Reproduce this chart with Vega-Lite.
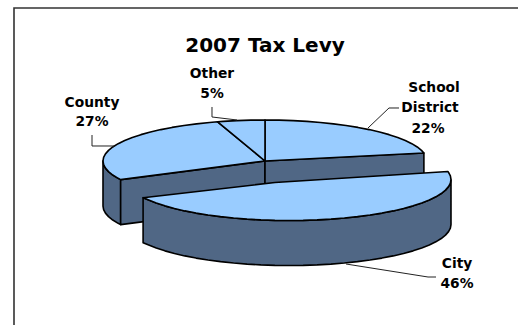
{
  "$schema": "https://vega.github.io/schema/vega-lite/v6.json",
  "width": 518,
  "height": 325,
  "padding": 0,
  "autosize": "none",
  "background": "white",
  "view": {"stroke": null},
  "config": {"text": {"font": "DejaVu Sans"}},
  "datasets": {
    "frame": [
      {"i": 0, "x": -1.5494, "y": -4},
      {"i": 1, "x": -1.5494, "y": 3.7317},
      {"i": 2, "x": 1.5617, "y": 3.7317}
    ],
    "pie": [
      {"layer": "backWall", "shape": "countyRim", "i": 0, "x": -0.891, "y": -0.454},
      {"layer": "backWall", "shape": "countyRim", "i": 1, "x": -0.9063, "y": -0.4226},
      {"layer": "backWall", "shape": "countyRim", "i": 2, "x": -0.9397, "y": -0.342},
      {"layer": "backWall", "shape": "countyRim", "i": 3, "x": -0.9659, "y": -0.2588},
      {"layer": "backWall", "shape": "countyRim", "i": 4, "x": -0.9848, "y": -0.1736},
      {"layer": "backWall", "shape": "countyRim", "i": 5, "x": -0.9962, "y": -0.0872},
      {"layer": "backWall", "shape": "countyRim", "i": 6, "x": -1, "y": 0},
      {"layer": "backWall", "shape": "countyRim", "i": 7, "x": -1, "y": -1.0976},
      {"layer": "backWall", "shape": "countyRim", "i": 8, "x": -0.9962, "y": -1.1848},
      {"layer": "backWall", "shape": "countyRim", "i": 9, "x": -0.9848, "y": -1.2712},
      {"layer": "backWall", "shape": "countyRim", "i": 10, "x": -0.9659, "y": -1.3564},
      {"layer": "backWall", "shape": "countyRim", "i": 11, "x": -0.9397, "y": -1.4396},
      {"layer": "backWall", "shape": "countyRim", "i": 12, "x": -0.9063, "y": -1.5202},
      {"layer": "backWall", "shape": "countyRim", "i": 13, "x": -0.891, "y": -1.5516},
      {"layer": "backWall", "shape": "countyRim", "i": 14, "x": -0.891, "y": -0.454},
      {"layer": "backWall", "shape": "countyCut", "i": 0, "x": 0, "y": 0},
      {"layer": "backWall", "shape": "countyCut", "i": 1, "x": -0.891, "y": -0.454},
      {"layer": "backWall", "shape": "countyCut", "i": 2, "x": -0.891, "y": -1.5516},
      {"layer": "backWall", "shape": "countyCut", "i": 3, "x": 0, "y": -1.0976},
      {"layer": "backWall", "shape": "countyCut", "i": 4, "x": 0, "y": 0},
      {"layer": "backWall", "shape": "schoolCut", "i": 0, "x": 0, "y": 0},
      {"layer": "backWall", "shape": "schoolCut", "i": 1, "x": 0.9808, "y": 0.1951},
      {"layer": "backWall", "shape": "schoolCut", "i": 2, "x": 0.9808, "y": -0.9025},
      {"layer": "backWall", "shape": "schoolCut", "i": 3, "x": 0, "y": -1.0976},
      {"layer": "backWall", "shape": "schoolCut", "i": 4, "x": 0, "y": 0},

      {"layer": "backTop", "shape": "school", "i": 0, "x": 0, "y": 0},
      {"layer": "backTop", "shape": "school", "i": 1, "x": 0, "y": 1},
      {"layer": "backTop", "shape": "school", "i": 2, "x": 0.0872, "y": 0.9962},
      {"layer": "backTop", "shape": "school", "i": 3, "x": 0.1736, "y": 0.9848},
      {"layer": "backTop", "shape": "school", "i": 4, "x": 0.2588, "y": 0.9659},
      {"layer": "backTop", "shape": "school", "i": 5, "x": 0.342, "y": 0.9397},
      {"layer": "backTop", "shape": "school", "i": 6, "x": 0.4226, "y": 0.9063},
      {"layer": "backTop", "shape": "school", "i": 7, "x": 0.5, "y": 0.866},
      {"layer": "backTop", "shape": "school", "i": 8, "x": 0.5736, "y": 0.8192},
      {"layer": "backTop", "shape": "school", "i": 9, "x": 0.6428, "y": 0.766},
      {"layer": "backTop", "shape": "school", "i": 10, "x": 0.7071, "y": 0.7071},
      {"layer": "backTop", "shape": "school", "i": 11, "x": 0.766, "y": 0.6428},
      {"layer": "backTop", "shape": "school", "i": 12, "x": 0.8192, "y": 0.5736},
      {"layer": "backTop", "shape": "school", "i": 13, "x": 0.866, "y": 0.5},
      {"layer": "backTop", "shape": "school", "i": 14, "x": 0.9063, "y": 0.4226},
      {"layer": "backTop", "shape": "school", "i": 15, "x": 0.9397, "y": 0.342},
      {"layer": "backTop", "shape": "school", "i": 16, "x": 0.9659, "y": 0.2588},
      {"layer": "backTop", "shape": "school", "i": 17, "x": 0.9808, "y": 0.1951},
      {"layer": "backTop", "shape": "school", "i": 18, "x": 0, "y": 0},

      {"layer": "backTop", "shape": "county", "i": 0, "x": 0, "y": 0},
      {"layer": "backTop", "shape": "county", "i": 1, "x": -0.891, "y": -0.454},
      {"layer": "backTop", "shape": "county", "i": 2, "x": -0.9063, "y": -0.4226},
      {"layer": "backTop", "shape": "county", "i": 3, "x": -0.9397, "y": -0.342},
      {"layer": "backTop", "shape": "county", "i": 4, "x": -0.9659, "y": -0.2588},
      {"layer": "backTop", "shape": "county", "i": 5, "x": -0.9848, "y": -0.1736},
      {"layer": "backTop", "shape": "county", "i": 6, "x": -0.9962, "y": -0.0872},
      {"layer": "backTop", "shape": "county", "i": 7, "x": -1, "y": 0},
      {"layer": "backTop", "shape": "county", "i": 8, "x": -0.9962, "y": 0.0872},
      {"layer": "backTop", "shape": "county", "i": 9, "x": -0.9848, "y": 0.1736},
      {"layer": "backTop", "shape": "county", "i": 10, "x": -0.9659, "y": 0.2588},
      {"layer": "backTop", "shape": "county", "i": 11, "x": -0.9397, "y": 0.342},
      {"layer": "backTop", "shape": "county", "i": 12, "x": -0.9063, "y": 0.4226},
      {"layer": "backTop", "shape": "county", "i": 13, "x": -0.866, "y": 0.5},
      {"layer": "backTop", "shape": "county", "i": 14, "x": -0.8192, "y": 0.5736},
      {"layer": "backTop", "shape": "county", "i": 15, "x": -0.766, "y": 0.6428},
      {"layer": "backTop", "shape": "county", "i": 16, "x": -0.7071, "y": 0.7071},
      {"layer": "backTop", "shape": "county", "i": 17, "x": -0.6428, "y": 0.766},
      {"layer": "backTop", "shape": "county", "i": 18, "x": -0.5736, "y": 0.8192},
      {"layer": "backTop", "shape": "county", "i": 19, "x": -0.5, "y": 0.866},
      {"layer": "backTop", "shape": "county", "i": 20, "x": -0.4226, "y": 0.9063},
      {"layer": "backTop", "shape": "county", "i": 21, "x": -0.342, "y": 0.9397},
      {"layer": "backTop", "shape": "county", "i": 22, "x": -0.2924, "y": 0.9563},
      {"layer": "backTop", "shape": "county", "i": 23, "x": 0, "y": 0},

      {"layer": "backTop", "shape": "other", "i": 0, "x": 0, "y": 0},
      {"layer": "backTop", "shape": "other", "i": 1, "x": -0.2924, "y": 0.9563},
      {"layer": "backTop", "shape": "other", "i": 2, "x": -0.2588, "y": 0.9659},
      {"layer": "backTop", "shape": "other", "i": 3, "x": -0.1736, "y": 0.9848},
      {"layer": "backTop", "shape": "other", "i": 4, "x": -0.0872, "y": 0.9962},
      {"layer": "backTop", "shape": "other", "i": 5, "x": 0, "y": 1},
      {"layer": "backTop", "shape": "other", "i": 6, "x": 0, "y": 0},

      {"layer": "cityWall", "shape": "cityRim", "i": 0, "x": 1.1481, "y": -0.4512},
      {"layer": "cityWall", "shape": "cityRim", "i": 1, "x": 1.1443, "y": -0.5384},
      {"layer": "cityWall", "shape": "cityRim", "i": 2, "x": 1.1329, "y": -0.6248},
      {"layer": "cityWall", "shape": "cityRim", "i": 3, "x": 1.114, "y": -0.71},
      {"layer": "cityWall", "shape": "cityRim", "i": 4, "x": 1.0878, "y": -0.7932},
      {"layer": "cityWall", "shape": "cityRim", "i": 5, "x": 1.0544, "y": -0.8738},
      {"layer": "cityWall", "shape": "cityRim", "i": 6, "x": 1.0141, "y": -0.9512},
      {"layer": "cityWall", "shape": "cityRim", "i": 7, "x": 0.9673, "y": -1.0248},
      {"layer": "cityWall", "shape": "cityRim", "i": 8, "x": 0.9141, "y": -1.094},
      {"layer": "cityWall", "shape": "cityRim", "i": 9, "x": 0.8552, "y": -1.1583},
      {"layer": "cityWall", "shape": "cityRim", "i": 10, "x": 0.7909, "y": -1.2172},
      {"layer": "cityWall", "shape": "cityRim", "i": 11, "x": 0.7217, "y": -1.2704},
      {"layer": "cityWall", "shape": "cityRim", "i": 12, "x": 0.6481, "y": -1.3172},
      {"layer": "cityWall", "shape": "cityRim", "i": 13, "x": 0.5707, "y": -1.3575},
      {"layer": "cityWall", "shape": "cityRim", "i": 14, "x": 0.4901, "y": -1.3909},
      {"layer": "cityWall", "shape": "cityRim", "i": 15, "x": 0.4069, "y": -1.4171},
      {"layer": "cityWall", "shape": "cityRim", "i": 16, "x": 0.3217, "y": -1.436},
      {"layer": "cityWall", "shape": "cityRim", "i": 17, "x": 0.2353, "y": -1.4474},
      {"layer": "cityWall", "shape": "cityRim", "i": 18, "x": 0.1481, "y": -1.4512},
      {"layer": "cityWall", "shape": "cityRim", "i": 19, "x": 0.0609, "y": -1.4474},
      {"layer": "cityWall", "shape": "cityRim", "i": 20, "x": -0.0255, "y": -1.436},
      {"layer": "cityWall", "shape": "cityRim", "i": 21, "x": -0.1107, "y": -1.4171},
      {"layer": "cityWall", "shape": "cityRim", "i": 22, "x": -0.1939, "y": -1.3909},
      {"layer": "cityWall", "shape": "cityRim", "i": 23, "x": -0.2745, "y": -1.3575},
      {"layer": "cityWall", "shape": "cityRim", "i": 24, "x": -0.3519, "y": -1.3172},
      {"layer": "cityWall", "shape": "cityRim", "i": 25, "x": -0.4255, "y": -1.2704},
      {"layer": "cityWall", "shape": "cityRim", "i": 26, "x": -0.4947, "y": -1.2172},
      {"layer": "cityWall", "shape": "cityRim", "i": 27, "x": -0.559, "y": -1.1583},
      {"layer": "cityWall", "shape": "cityRim", "i": 28, "x": -0.6179, "y": -1.094},
      {"layer": "cityWall", "shape": "cityRim", "i": 29, "x": -0.6711, "y": -1.0248},
      {"layer": "cityWall", "shape": "cityRim", "i": 30, "x": -0.7179, "y": -0.9512},
      {"layer": "cityWall", "shape": "cityRim", "i": 31, "x": -0.7525, "y": -0.8952},
      {"layer": "cityWall", "shape": "cityRim", "i": 32, "x": -0.7525, "y": -1.9928},
      {"layer": "cityWall", "shape": "cityRim", "i": 33, "x": -0.7179, "y": -2.0488},
      {"layer": "cityWall", "shape": "cityRim", "i": 34, "x": -0.6711, "y": -2.1224},
      {"layer": "cityWall", "shape": "cityRim", "i": 35, "x": -0.6179, "y": -2.1916},
      {"layer": "cityWall", "shape": "cityRim", "i": 36, "x": -0.559, "y": -2.2559},
      {"layer": "cityWall", "shape": "cityRim", "i": 37, "x": -0.4947, "y": -2.3148},
      {"layer": "cityWall", "shape": "cityRim", "i": 38, "x": -0.4255, "y": -2.368},
      {"layer": "cityWall", "shape": "cityRim", "i": 39, "x": -0.3519, "y": -2.4148},
      {"layer": "cityWall", "shape": "cityRim", "i": 40, "x": -0.2745, "y": -2.4551},
      {"layer": "cityWall", "shape": "cityRim", "i": 41, "x": -0.1939, "y": -2.4885},
      {"layer": "cityWall", "shape": "cityRim", "i": 42, "x": -0.1107, "y": -2.5147},
      {"layer": "cityWall", "shape": "cityRim", "i": 43, "x": -0.0255, "y": -2.5336},
      {"layer": "cityWall", "shape": "cityRim", "i": 44, "x": 0.0609, "y": -2.545},
      {"layer": "cityWall", "shape": "cityRim", "i": 45, "x": 0.1481, "y": -2.5488},
      {"layer": "cityWall", "shape": "cityRim", "i": 46, "x": 0.2353, "y": -2.545},
      {"layer": "cityWall", "shape": "cityRim", "i": 47, "x": 0.3217, "y": -2.5336},
      {"layer": "cityWall", "shape": "cityRim", "i": 48, "x": 0.4069, "y": -2.5147},
      {"layer": "cityWall", "shape": "cityRim", "i": 49, "x": 0.4901, "y": -2.4885},
      {"layer": "cityWall", "shape": "cityRim", "i": 50, "x": 0.5707, "y": -2.4551},
      {"layer": "cityWall", "shape": "cityRim", "i": 51, "x": 0.6481, "y": -2.4148},
      {"layer": "cityWall", "shape": "cityRim", "i": 52, "x": 0.7217, "y": -2.368},
      {"layer": "cityWall", "shape": "cityRim", "i": 53, "x": 0.7909, "y": -2.3148},
      {"layer": "cityWall", "shape": "cityRim", "i": 54, "x": 0.8552, "y": -2.2559},
      {"layer": "cityWall", "shape": "cityRim", "i": 55, "x": 0.9141, "y": -2.1916},
      {"layer": "cityWall", "shape": "cityRim", "i": 56, "x": 0.9673, "y": -2.1224},
      {"layer": "cityWall", "shape": "cityRim", "i": 57, "x": 1.0141, "y": -2.0488},
      {"layer": "cityWall", "shape": "cityRim", "i": 58, "x": 1.0544, "y": -1.9714},
      {"layer": "cityWall", "shape": "cityRim", "i": 59, "x": 1.0878, "y": -1.8908},
      {"layer": "cityWall", "shape": "cityRim", "i": 60, "x": 1.114, "y": -1.8076},
      {"layer": "cityWall", "shape": "cityRim", "i": 61, "x": 1.1329, "y": -1.7224},
      {"layer": "cityWall", "shape": "cityRim", "i": 62, "x": 1.1443, "y": -1.636},
      {"layer": "cityWall", "shape": "cityRim", "i": 63, "x": 1.1481, "y": -1.5488},
      {"layer": "cityWall", "shape": "cityRim", "i": 64, "x": 1.1481, "y": -0.4512},

      {"layer": "cityTop", "shape": "city", "i": 0, "x": 0.0617, "y": -0.5244},
      {"layer": "cityTop", "shape": "city", "i": 1, "x": 1.1289, "y": -0.2561},
      {"layer": "cityTop", "shape": "city", "i": 2, "x": 1.1329, "y": -0.2776},
      {"layer": "cityTop", "shape": "city", "i": 3, "x": 1.1443, "y": -0.364},
      {"layer": "cityTop", "shape": "city", "i": 4, "x": 1.1481, "y": -0.4512},
      {"layer": "cityTop", "shape": "city", "i": 5, "x": 1.1443, "y": -0.5384},
      {"layer": "cityTop", "shape": "city", "i": 6, "x": 1.1329, "y": -0.6248},
      {"layer": "cityTop", "shape": "city", "i": 7, "x": 1.114, "y": -0.71},
      {"layer": "cityTop", "shape": "city", "i": 8, "x": 1.0878, "y": -0.7932},
      {"layer": "cityTop", "shape": "city", "i": 9, "x": 1.0544, "y": -0.8738},
      {"layer": "cityTop", "shape": "city", "i": 10, "x": 1.0141, "y": -0.9512},
      {"layer": "cityTop", "shape": "city", "i": 11, "x": 0.9673, "y": -1.0248},
      {"layer": "cityTop", "shape": "city", "i": 12, "x": 0.9141, "y": -1.094},
      {"layer": "cityTop", "shape": "city", "i": 13, "x": 0.8552, "y": -1.1583},
      {"layer": "cityTop", "shape": "city", "i": 14, "x": 0.7909, "y": -1.2172},
      {"layer": "cityTop", "shape": "city", "i": 15, "x": 0.7217, "y": -1.2704},
      {"layer": "cityTop", "shape": "city", "i": 16, "x": 0.6481, "y": -1.3172},
      {"layer": "cityTop", "shape": "city", "i": 17, "x": 0.5707, "y": -1.3575},
      {"layer": "cityTop", "shape": "city", "i": 18, "x": 0.4901, "y": -1.3909},
      {"layer": "cityTop", "shape": "city", "i": 19, "x": 0.4069, "y": -1.4171},
      {"layer": "cityTop", "shape": "city", "i": 20, "x": 0.3217, "y": -1.436},
      {"layer": "cityTop", "shape": "city", "i": 21, "x": 0.2353, "y": -1.4474},
      {"layer": "cityTop", "shape": "city", "i": 22, "x": 0.1481, "y": -1.4512},
      {"layer": "cityTop", "shape": "city", "i": 23, "x": 0.0609, "y": -1.4474},
      {"layer": "cityTop", "shape": "city", "i": 24, "x": -0.0255, "y": -1.436},
      {"layer": "cityTop", "shape": "city", "i": 25, "x": -0.1107, "y": -1.4171},
      {"layer": "cityTop", "shape": "city", "i": 26, "x": -0.1939, "y": -1.3909},
      {"layer": "cityTop", "shape": "city", "i": 27, "x": -0.2745, "y": -1.3575},
      {"layer": "cityTop", "shape": "city", "i": 28, "x": -0.3519, "y": -1.3172},
      {"layer": "cityTop", "shape": "city", "i": 29, "x": -0.4255, "y": -1.2704},
      {"layer": "cityTop", "shape": "city", "i": 30, "x": -0.4947, "y": -1.2172},
      {"layer": "cityTop", "shape": "city", "i": 31, "x": -0.559, "y": -1.1583},
      {"layer": "cityTop", "shape": "city", "i": 32, "x": -0.6179, "y": -1.094},
      {"layer": "cityTop", "shape": "city", "i": 33, "x": -0.6711, "y": -1.0248},
      {"layer": "cityTop", "shape": "city", "i": 34, "x": -0.7179, "y": -0.9512},
      {"layer": "cityTop", "shape": "city", "i": 35, "x": -0.7525, "y": -0.8952},
      {"layer": "cityTop", "shape": "city", "i": 36, "x": 0.0617, "y": -0.5244}
    ],
    "leaders": [
      {"slice": "School District", "i": 0, "x": 0.6358, "y": 0.8049},
      {"slice": "School District", "i": 1, "x": 0.7654, "y": 1.2927},
      {"slice": "School District", "i": 2, "x": 0.8272, "y": 1.2927},
      {"slice": "County", "i": 0, "x": -1.0679, "y": 0.6341},
      {"slice": "County", "i": 1, "x": -1.0679, "y": 0.3659},
      {"slice": "County", "i": 2, "x": -0.9321, "y": 0.3659},
      {"slice": "Other", "i": 0, "x": -0.3272, "y": 1.3171},
      {"slice": "Other", "i": 1, "x": -0.3272, "y": 1.0732},
      {"slice": "Other", "i": 2, "x": -0.1728, "y": 1},
      {"slice": "City", "i": 0, "x": 0.5, "y": -2.5122},
      {"slice": "City", "i": 1, "x": 1.0062, "y": -2.8293},
      {"slice": "City", "i": 2, "x": 1.0556, "y": -2.8293}
    ],
    "labels": [
      {"text": "School", "x": 1.0432, "y": 1.7805},
      {"text": "District", "x": 1.0185, "y": 1.2927},
      {"text": "22%", "x": 1.0062, "y": 0.7805},
      {"text": "County", "x": -1.0679, "y": 1.4146},
      {"text": "27%", "x": -1.0679, "y": 0.9512},
      {"text": "Other", "x": -0.3272, "y": 2.1219},
      {"text": "5%", "x": -0.3272, "y": 1.6341},
      {"text": "City", "x": 1.1852, "y": -2.5122},
      {"text": "46%", "x": 1.1852, "y": -3.0},
      {"text": "2007 Tax Levy", "x": 0, "y": 2.8049, "title": true}
    ]
  },
  "data": {"name": "pie"},
  "encoding": {
    "x": {"field": "x", "type": "quantitative", "axis": null, "scale": {"domain": [-1.6358, 1.5617], "nice": false, "zero": false}},
    "y": {"field": "y", "type": "quantitative", "axis": null, "scale": {"domain": [-4, 3.9268], "nice": false, "zero": false}}
  },
  "layer": [
    {
      "data": {"name": "frame"},
      "mark": {"type": "line", "stroke": "#333333", "strokeWidth": 1.6, "clip": false},
      "encoding": {"order": {"field": "i"}}
    },
    {
      "transform": [{"filter": "datum.layer === 'backWall'"}],
      "mark": {"type": "line", "fill": "#506785", "stroke": "black", "strokeWidth": 1.6, "strokeJoin": "round"},
      "encoding": {"detail": {"field": "shape"}, "order": {"field": "i"}}
    },
    {
      "transform": [{"filter": "datum.layer === 'backTop'"}],
      "mark": {"type": "line", "fill": "#99CCFF", "stroke": "black", "strokeWidth": 1.6, "strokeJoin": "round"},
      "encoding": {"detail": {"field": "shape"}, "order": {"field": "i"}}
    },
    {
      "transform": [{"filter": "datum.layer === 'cityWall'"}],
      "mark": {"type": "line", "fill": "#506785", "stroke": "black", "strokeWidth": 1.6, "strokeJoin": "round"},
      "encoding": {"detail": {"field": "shape"}, "order": {"field": "i"}}
    },
    {
      "transform": [{"filter": "datum.layer === 'cityTop'"}],
      "mark": {"type": "line", "fill": "#99CCFF", "stroke": "black", "strokeWidth": 1.6, "strokeJoin": "round"},
      "encoding": {"detail": {"field": "shape"}, "order": {"field": "i"}}
    },
    {
      "data": {"name": "leaders"},
      "mark": {"type": "line", "stroke": "#222222", "strokeWidth": 1},
      "encoding": {"detail": {"field": "slice"}, "order": {"field": "i"}}
    },
    {
      "data": {"name": "labels"},
      "transform": [{"filter": "!datum.title"}],
      "mark": {"type": "text", "font": "DejaVu Sans", "fontWeight": "bold", "fontSize": 13.8, "color": "black", "align": "center", "baseline": "middle"},
      "encoding": {"text": {"field": "text"}}
    },
    {
      "data": {"name": "labels"},
      "transform": [{"filter": "datum.title"}],
      "mark": {"type": "text", "font": "DejaVu Sans", "fontWeight": "bold", "fontSize": 20, "color": "black", "align": "center", "baseline": "middle"},
      "encoding": {"text": {"field": "text"}}
    }
  ]
}
